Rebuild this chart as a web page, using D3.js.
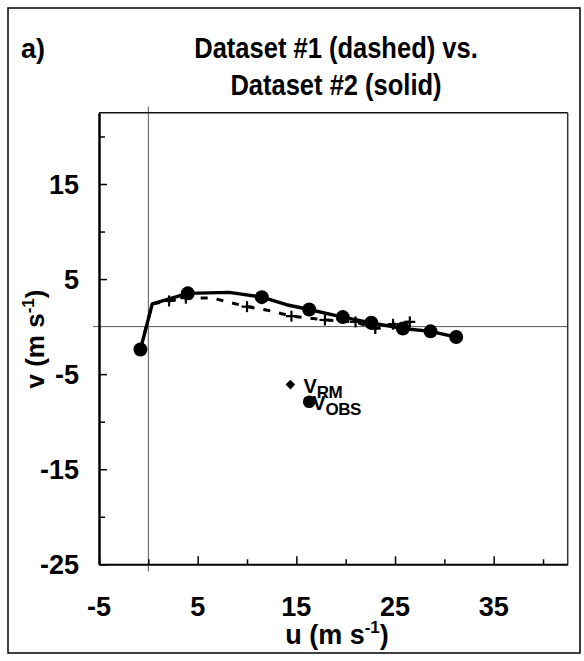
<!DOCTYPE html>
<html>
<head>
<meta charset="utf-8">
<script src="https://cdn.jsdelivr.net/npm/d3@7"></script>
<style>
  html, body { margin: 0; padding: 0; background: #fff; }
  svg text { font-family: "Liberation Sans", Arial, sans-serif; font-weight: bold; fill: #000; }
</style>
</head>
<body>
<svg id="chart" width="584" height="661"></svg>
<script>
// ---- data ----
const titleLines = ["Dataset #1 (dashed) vs.", "Dataset #2 (solid)"];
const panelLabel = "a)";

const xTicks = [-5, 0, 5, 10, 15, 20, 25, 30, 35, 40];
const xTickLabels = [-5, 5, 15, 25, 35];
const yTicks = [-25, -20, -15, -10, -5, 0, 5, 10, 15, 20];
const yTickLabels = [15, 5, -5, -15, -25];

// Dataset #1 (dashed, + markers)
const dataset1U = [-0.8, 0.4, 2.1, 3.8, 6.5, 10.0, 12.2, 14.5, 17.9, 21.0, 23.0, 24.8, 26.5];
const dataset1V = [-2.4, 2.4, 2.7, 3.0, 3.0, 2.1, 1.7, 1.1, 0.7, 0.5, -0.2, 0.25, 0.5];
const dataset1Marked = [1, 0, 1, 1, 0, 1, 0, 1, 1, 1, 1, 1, 1];

// Dataset #2 (solid, filled circles)
const dataset2U = [-0.8, 0.4, 4.0, 8.2, 11.5, 14.0, 16.3, 19.7, 22.6, 25.8, 28.6, 31.2];
const dataset2V = [-2.4, 2.4, 3.5, 3.6, 3.1, 2.3, 1.8, 1.0, 0.4, -0.2, -0.5, -1.1];
const dataset2Marked = [1, 0, 1, 0, 1, 0, 1, 1, 1, 1, 1, 1];

// storm motion vectors
const stormNames = ["RM", "OBS"];
const stormU = [14.4, 16.3];
const stormV = [-6.1, -7.9];
const stormShapes = ["diamond", "circle"];

// ---- layout ----
const svg = d3.select("#chart");
const plot = { left: 99, right: 567.7, top: 112.7, bottom: 564.3 };

const x = d3.scaleLinear().domain([-5, 42.5]).range([plot.left, plot.right]);
const y = d3.scaleLinear().domain([-25, 22.5]).range([plot.bottom, plot.top]);

// outer frame
svg.append("rect").attr("x", 8).attr("y", 8).attr("width", 572).attr("height", 645)
  .attr("fill", "none").attr("stroke", "#000").attr("stroke-width", 1.5);

// panel label & title
svg.append("text").attr("x", 21).attr("y", 58).attr("font-size", 27).text(panelLabel);
svg.selectAll("text.title").data(titleLines).join("text").attr("class", "title")
  .attr("transform", (d, i) => `translate(336,${58 + i * 37}) scale(0.88,1)`)
  .attr("text-anchor", "middle").attr("font-size", 29).text(d => d);

// zero lines (extend slightly beyond the plot box)
svg.append("line").attr("x1", plot.left - 6).attr("x2", plot.right)
  .attr("y1", y(0)).attr("y2", y(0)).attr("stroke", "#555").attr("stroke-width", 1);
svg.append("line").attr("x1", x(0)).attr("x2", x(0))
  .attr("y1", plot.top - 6).attr("y2", plot.bottom + 7).attr("stroke", "#555").attr("stroke-width", 1);

// plot box: top & right thin
svg.append("line").attr("x1", plot.left).attr("x2", plot.right).attr("y1", plot.top).attr("y2", plot.top)
  .attr("stroke", "#111").attr("stroke-width", 1.5);
svg.append("line").attr("x1", plot.right).attr("x2", plot.right).attr("y1", plot.top).attr("y2", plot.bottom)
  .attr("stroke", "#333").attr("stroke-width", 1.5);

// x axis (ticks pointing inward)
const xAxis = svg.append("g").attr("transform", `translate(0,${plot.bottom})`)
  .call(d3.axisBottom(x).tickValues(xTicks).tickFormat("").tickSizeOuter(0)
    .tickSizeInner(-5));
xAxis.select(".domain").attr("stroke", "#000").attr("stroke-width", 2);
xAxis.selectAll(".tick line").attr("stroke", "#000").attr("stroke-width", 1.5)
  .attr("y2", d => xTickLabels.includes(d) ? -8 : -5);
svg.selectAll("text.xlab").data(xTickLabels).join("text").attr("class", "xlab")
  .attr("x", d => x(d)).attr("y", 616).attr("text-anchor", "middle")
  .attr("font-size", 27).text(d => d);

// y axis
const yAxis = svg.append("g").attr("transform", `translate(${plot.left},0)`)
  .call(d3.axisLeft(y).tickValues(yTicks.filter(v => v !== 0)).tickFormat("").tickSizeOuter(0)
    .tickSizeInner(-7));
yAxis.select(".domain").attr("stroke", "#000").attr("stroke-width", 2.5);
yAxis.selectAll(".tick line").attr("stroke", "#000").attr("stroke-width", 1.5)
  .attr("x2", d => yTickLabels.includes(d) ? 8 : 6);
svg.selectAll("text.ylab").data(yTickLabels).join("text").attr("class", "ylab")
  .attr("x", 79).attr("y", d => y(d)).attr("dy", "0.36em").attr("text-anchor", "end")
  .attr("font-size", 27).text(d => d);

// axis titles
const xt = svg.append("text").attr("x", 337).attr("y", 644).attr("text-anchor", "middle").attr("font-size", 27);
xt.append("tspan").text("u (m s");
xt.append("tspan").attr("dy", -11).attr("font-size", 17).text("-1");
xt.append("tspan").attr("dy", 11).text(")");

const yt = svg.append("text").attr("transform", "translate(44,339) rotate(-90)")
  .attr("text-anchor", "middle").attr("font-size", 26);
yt.append("tspan").text("v (m s");
yt.append("tspan").attr("dy", -10).attr("font-size", 17).text("-1");
yt.append("tspan").attr("dy", 10).text(")");

// series
const d1 = dataset1U.map((u, i) => ({ u, v: dataset1V[i], m: dataset1Marked[i] }));
const d2 = dataset2U.map((u, i) => ({ u, v: dataset2V[i], m: dataset2Marked[i] }));
const line = d3.line().x(d => x(d.u)).y(d => y(d.v));

svg.append("path").datum(d1).attr("d", line).attr("fill", "none")
  .attr("stroke", "#000").attr("stroke-width", 3).attr("stroke-dasharray", "7,9");
svg.append("path").datum(d2).attr("d", line).attr("fill", "none")
  .attr("stroke", "#000").attr("stroke-width", 3.4).attr("stroke-linejoin", "round");

svg.selectAll("g.plus").data(d1.filter(d => d.m)).join("g").attr("class", "plus")
  .attr("transform", d => `translate(${x(d.u)},${y(d.v)})`)
  .each(function () {
    const g = d3.select(this);
    g.append("line").attr("x1", -5.5).attr("x2", 5.5).attr("stroke", "#000").attr("stroke-width", 2.2);
    g.append("line").attr("y1", -5.5).attr("y2", 5.5).attr("stroke", "#000").attr("stroke-width", 2.2);
  });

svg.selectAll("circle.pt").data(d2.filter(d => d.m)).join("circle").attr("class", "pt")
  .attr("cx", d => x(d.u)).attr("cy", d => y(d.v)).attr("r", 7).attr("fill", "#000");

// storm motions
const storms = stormNames.map((n, i) => ({ n, u: stormU[i], v: stormV[i], s: stormShapes[i] }));
storms.forEach(d => {
  if (d.s === "diamond") {
    svg.append("path").attr("d", "M0,-4.8L4.8,0L0,4.8L-4.8,0Z")
      .attr("transform", `translate(${x(d.u)},${y(d.v)})`).attr("fill", "#000");
  } else {
    svg.append("circle").attr("cx", x(d.u)).attr("cy", y(d.v)).attr("r", 6.3).attr("fill", "#000");
  }
  const t = svg.append("text").attr("x", x(d.u) + (d.s === "diamond" ? 13 : 3))
    .attr("y", y(d.v) + 8).attr("font-size", 20);
  t.append("tspan").text("V");
  t.append("tspan").attr("dy", 5).attr("font-size", 17).attr("letter-spacing", -0.5).text(d.n);
});
</script>
</body>
</html>
